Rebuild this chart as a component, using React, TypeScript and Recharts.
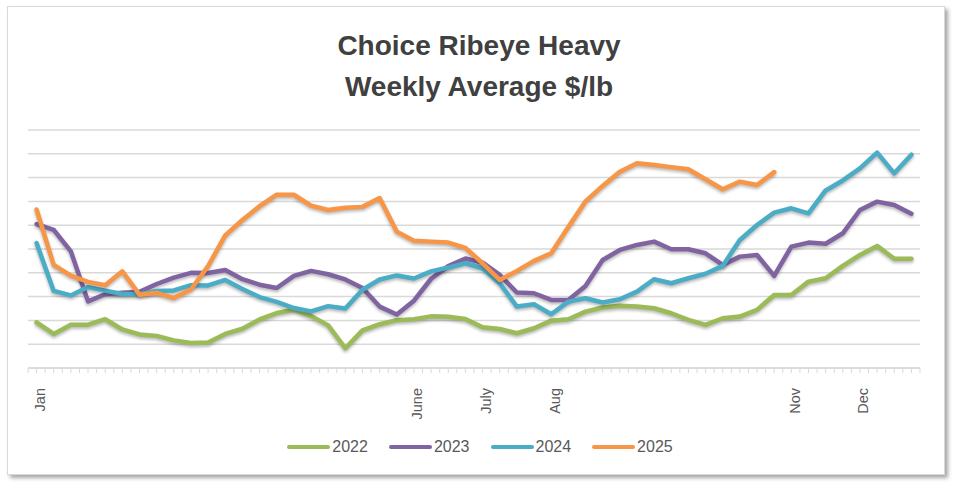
import { CartesianGrid, Line, LineChart, XAxis, YAxis } from 'recharts'

// weekly average $/lb, week 0 = first week of Jan
const WEEKS = Array.from({ length: 52 }, (_, i) => i)

const Y2022 = [7.92, 7.43, 7.82, 7.82, 8.05, 7.62, 7.41, 7.35, 7.16, 7.05, 7.07, 7.43, 7.65, 8.04, 8.31, 8.45, 8.19, 7.79, 6.83, 7.58, 7.84, 8.01, 8.05, 8.17, 8.15, 8.06, 7.71, 7.64, 7.46, 7.67, 7.99, 8.05, 8.37, 8.54, 8.62, 8.58, 8.51, 8.30, 8.02, 7.81, 8.09, 8.16, 8.44, 9.07, 9.07, 9.63, 9.77, 10.29, 10.75, 11.13, 10.59, 10.59]
const Y2023 = [12.05, 11.80, 10.90, 8.80, 9.10, 9.16, 9.20, 9.53, 9.80, 10.00, 9.99, 10.12, 9.73, 9.50, 9.36, 9.87, 10.08, 9.94, 9.72, 9.36, 8.58, 8.25, 8.83, 9.75, 10.28, 10.60, 10.43, 9.91, 9.17, 9.14, 8.86, 8.86, 9.45, 10.54, 10.96, 11.17, 11.31, 10.99, 10.99, 10.82, 10.33, 10.68, 10.75, 9.87, 11.10, 11.27, 11.22, 11.66, 12.64, 12.99, 12.85, 12.48]
const Y2024 = [11.25, 9.24, 9.05, 9.40, 9.25, 9.11, 9.10, 9.24, 9.26, 9.48, 9.47, 9.70, 9.32, 8.98, 8.78, 8.52, 8.38, 8.60, 8.50, 9.29, 9.72, 9.89, 9.76, 10.06, 10.22, 10.40, 10.19, 9.56, 8.58, 8.68, 8.26, 8.79, 8.93, 8.75, 8.89, 9.21, 9.73, 9.56, 9.77, 9.96, 10.29, 11.38, 12.01, 12.53, 12.71, 12.50, 13.46, 13.88, 14.39, 15.05, 14.18, 14.96]
const Y2025 = [12.66, 10.33, 9.88, 9.62, 9.48, 10.06, 9.08, 9.16, 8.94, 9.30, 10.28, 11.57, 12.22, 12.80, 13.28, 13.28, 12.82, 12.64, 12.73, 12.77, 13.14, 11.73, 11.35, 11.31, 11.27, 11.05, 10.40, 9.70, 10.08, 10.50, 10.82, 11.92, 13.00, 13.65, 14.25, 14.60, 14.53, 14.44, 14.35, 13.93, 13.51, 13.83, 13.69, 14.23, null, null, null, null, null, null, null, null]

const MONTH_LABELS = ['Jan', 'June', 'July', 'Aug', 'Nov', 'Dec']
const MONTH_WEEKS = [0, 22, 26, 30, 44, 48]

const Y_TICKS = [6, 7, 8, 9, 10, 11, 12, 13, 14, 15, 16]

const SERIES = [
  { key: 'y2022', name: '2022', color: '#9bbb59' },
  { key: 'y2023', name: '2023', color: '#8064a2' },
  { key: 'y2024', name: '2024', color: '#4bacc6' },
  { key: 'y2025', name: '2025', color: '#f79646' },
]

const data = WEEKS.map((week, i) => ({
  week,
  y2022: Y2022[i],
  y2023: Y2023[i],
  y2024: Y2024[i],
  y2025: Y2025[i],
}))

// major + minor tick marks: category edges and centres
const xTicks = Array.from({ length: WEEKS.length * 2 + 1 }, (_, i) => -0.5 + i * 0.5)

const FONT = '"Liberation Sans", Arial, sans-serif'

function MonthTick(props: any) {
  const { x, y, payload } = props
  const idx = MONTH_WEEKS.indexOf(payload.value)
  if (idx < 0) return null
  return (
    <text
      transform={`translate(${x + 8.5},${y + 13}) rotate(-90)`}
      textAnchor="end"
      fontSize={14.5}
      fontFamily={FONT}
      fill="#595959"
    >
      {MONTH_LABELS[idx]}
    </text>
  )
}

export default function App() {
  return (
    <div style={{ position: 'absolute', left: 0, top: 0, width: 960, height: 491, background: '#fff', overflow: 'hidden' }}>
      <style>{`.recharts-line-curve { filter: drop-shadow(0px 2px 1.5px rgba(0,0,0,0.28)); }`}</style>
      <div
        style={{
          position: 'absolute',
          left: 7,
          top: 6,
          width: 936,
          height: 467,
          border: '1.5px solid #d9d9d9',
          boxShadow: '3px 3px 4px rgba(0,0,0,0.35)',
          background: '#fff',
        }}
      />
      <div
        style={{
          position: 'absolute',
          left: 0,
          top: 25,
          width: 958,
          textAlign: 'center',
          fontFamily: FONT,
          fontWeight: 'bold',
          fontSize: 28,
          lineHeight: '41px',
          color: '#404040',
        }}
      >
        Choice Ribeye Heavy
        <br />
        Weekly Average $/lb
      </div>
      <div style={{ position: 'absolute', left: 0, top: 0 }}>
        <LineChart width={960} height={491} data={data} margin={{ top: 130, right: 40, left: 28, bottom: 0 }}>
          <CartesianGrid vertical={false} stroke="#d9d9d9" strokeWidth={1.5} />
          <XAxis
            dataKey="week"
            type="number"
            domain={[-0.5, 51.5]}
            ticks={xTicks}
            interval={0}
            height={123}
            tickSize={5}
            axisLine={{ stroke: '#d9d9d9', strokeWidth: 1.5 }}
            tickLine={{ stroke: '#d9d9d9' }}
            tick={<MonthTick />}
          />
          <YAxis
            domain={[6, 16]}
            ticks={Y_TICKS}
            interval={0}
            width={0}
            tick={{ fill: 'transparent', fontSize: 1 }}
            axisLine={false}
            tickLine={false}
          />
          {SERIES.map((s) => (
            <Line
              key={s.key}
              dataKey={s.key}
              name={s.name}
              stroke={s.color}
              strokeWidth={4.5}
              strokeLinejoin="round"
              strokeLinecap="round"
              dot={false}
              activeDot={false}
              isAnimationActive={false}
            />
          ))}
        </LineChart>
      </div>
      <div
        style={{
          position: 'absolute',
          left: 0,
          top: 436,
          width: 960,
          display: 'flex',
          justifyContent: 'center',
          gap: 21,
          fontFamily: FONT,
          fontSize: 16,
          color: '#595959',
        }}
      >
        {SERIES.map((s) => (
          <div key={s.key} style={{ display: 'flex', alignItems: 'center', gap: 2 }}>
            <span style={{ display: 'inline-block', width: 43, height: 4, background: s.color, borderRadius: 2 }} />
            <span style={{ lineHeight: '22px' }}>{s.name}</span>
          </div>
        ))}
      </div>
    </div>
  )
}
